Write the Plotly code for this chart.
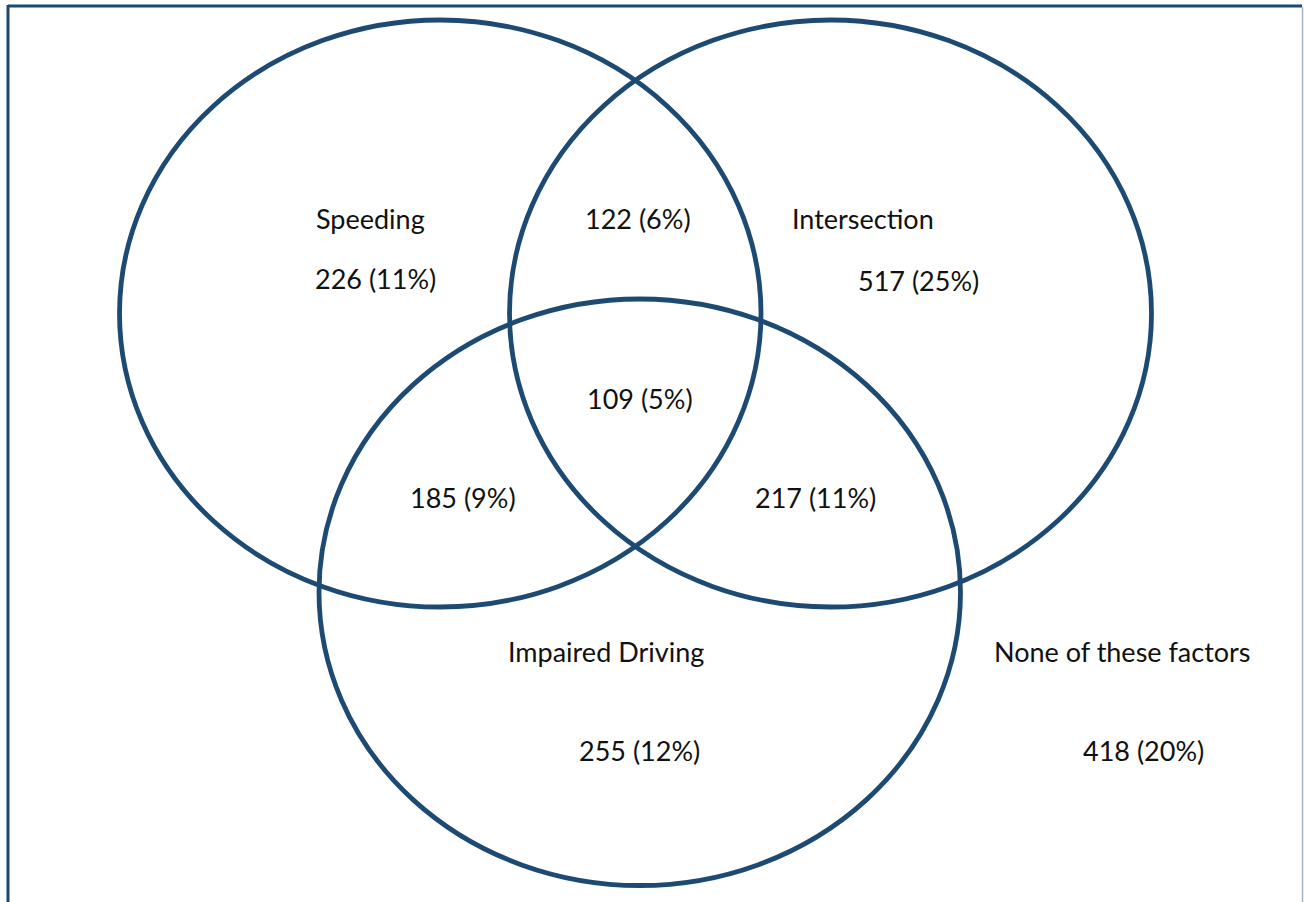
import plotly.graph_objects as go

# ---- data ----
set_names = ["Speeding", "Intersection", "Impaired Driving"]
region_labels = ["Speeding only", "Speeding & Intersection", "Intersection only",
                 "All three", "Speeding & Impaired", "Intersection & Impaired",
                 "Impaired only", "None of these factors"]
region_counts = [226, 122, 517, 109, 185, 217, 255, 418]
region_pcts = [11, 6, 25, 5, 9, 11, 12, 20]
outside_label = "None of these factors"

# ---- layout geometry (pixels, y downward) ----
W, H = 1304, 902
circle_boxes = [  # x0, y0, x1, y1
    (119.5, 20, 761, 607),
    (509.5, 20, 1151.5, 607),
    (319, 299, 960.5, 885.5),
]
set_label_pos = [(370, 218), (863, 218), (606, 651)]
region_pos = [(375, 278), (638, 218), (918, 280), (640, 398),
              (463, 497), (815, 497), (639, 750), (1143, 750)]
outside_label_pos = (1122, 651)

LINE = "#1d4a72"
FONT = dict(family="Lato, Calibri, sans-serif", size=27, color="#111111")

fig = go.Figure()
# invisible trace to establish axes
fig.add_trace(go.Scatter(x=[0, W], y=[0, H], mode="markers",
                         marker=dict(opacity=0), hoverinfo="skip", showlegend=False))

shapes = []
for (x0, y0, x1, y1) in circle_boxes:
    shapes.append(dict(type="circle", xref="x", yref="y", x0=x0, y0=y0, x1=x1, y1=y1,
                       line=dict(color=LINE, width=4.8), fillcolor="rgba(0,0,0,0)"))
# frame
shapes.append(dict(type="line", xref="x", yref="y", x0=8, y0=6, x1=1302, y1=6,
                   line=dict(color=LINE, width=3)))
shapes.append(dict(type="line", xref="x", yref="y", x0=8, y0=5, x1=8, y1=H + 5,
                   line=dict(color=LINE, width=3)))
shapes.append(dict(type="line", xref="x", yref="y", x0=1302.5, y0=7, x1=1302.5, y1=H + 5,
                   line=dict(color="#a8b4c0", width=1.5)))

annotations = []
for name, (x, y) in zip(set_names, set_label_pos):
    annotations.append(dict(x=x, y=y, xref="x", yref="y", text=name, showarrow=False,
                            font=FONT, xanchor="center", yanchor="middle"))
annotations.append(dict(x=outside_label_pos[0], y=outside_label_pos[1], xref="x", yref="y",
                        text=outside_label, showarrow=False, font=FONT,
                        xanchor="center", yanchor="middle"))
for c, p, (x, y) in zip(region_counts, region_pcts, region_pos):
    annotations.append(dict(x=x, y=y, xref="x", yref="y", text=f"{c} ({p}%)",
                            showarrow=False, font=FONT, xanchor="center", yanchor="middle"))

fig.update_layout(
    width=W, height=H,
    margin=dict(l=0, r=0, t=0, b=0),
    paper_bgcolor="white", plot_bgcolor="white",
    xaxis=dict(range=[0, W], visible=False, fixedrange=True),
    yaxis=dict(range=[H, 0], visible=False, fixedrange=True),
    shapes=shapes, annotations=annotations,
    showlegend=False,
)

fig.write_html("out.html", config={"displayModeBar": False},
               post_script="document.body.style.margin='0';document.body.style.overflow='hidden';")
